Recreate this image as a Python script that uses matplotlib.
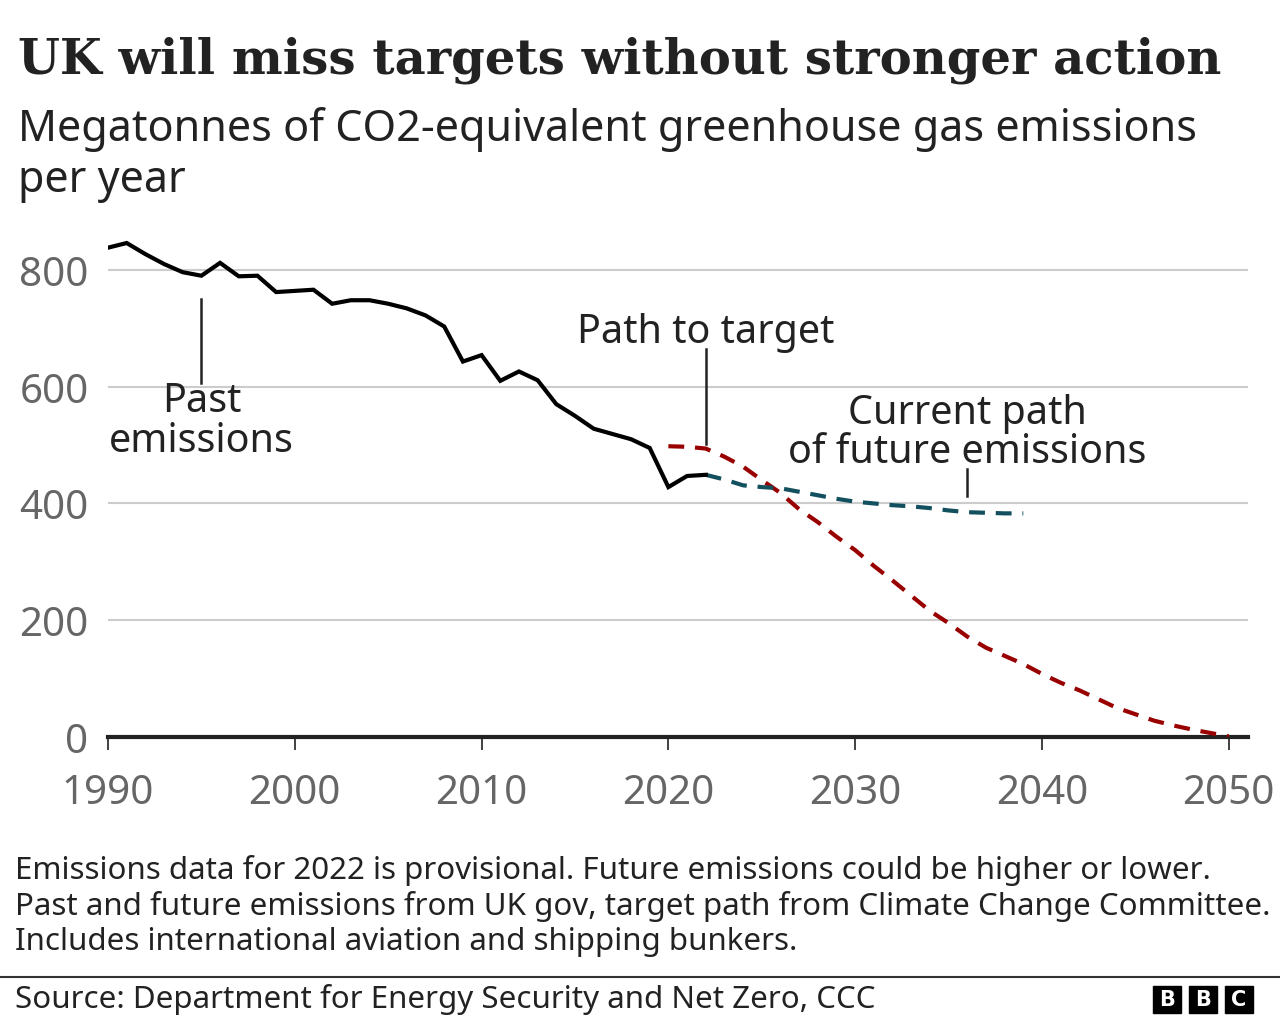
import matplotlib.pyplot as plt
from matplotlib.patches import Rectangle

# data
past_years = list(range(1990, 2023))
past_vals = [838, 846, 827, 810, 796, 790, 812, 789, 790, 762, 764, 766, 742, 748, 748,
             742, 734, 722, 703, 643, 654, 610, 626, 611, 570, 550, 528, 519, 510, 495,
             428, 447, 449]

target_years = list(range(2020, 2051))
target_vals = [498, 497, 494, 480, 463, 440, 418, 390, 368, 343, 320, 293, 268, 242, 216,
               195, 172, 153, 139, 125, 108, 93, 80, 65, 50, 39, 28, 20, 13, 7, 1]

current_years = list(range(2022, 2040))
current_vals = [449, 441, 431, 428, 426, 420, 414, 408, 403, 400, 397, 395, 392, 388,
                385, 384, 383, 383]

xticks = [1990, 2000, 2010, 2020, 2030, 2040, 2050]
yticks = [0, 200, 400, 600, 800]

W, H = 1280, 1020
sans = 'Noto Sans'

fig = plt.figure(figsize=(W / 100, H / 100), dpi=100)


def fx(x):
    return x / W


def fy(y):
    return 1 - y / H


# axes box in pixels: left 108, right 1248, bottom 738, top 230
ax = fig.add_axes([fx(108), fy(738), fx(1248 - 108), (738 - 230) / H])
ax.set_xlim(1990, 2051.03)
ax.set_ylim(0, 870)

ax.plot(past_years, past_vals, color='black', lw=3, solid_joinstyle='miter', zorder=4)
ax.plot(target_years, target_vals, color='#990000', lw=3, dashes=(3.8, 2.6), zorder=3)
ax.plot(current_years, current_vals, color='#12505f', lw=3, dashes=(3.8, 2.6), zorder=3)

ax.set_yticks(yticks)
ax.set_xticks(xticks)
ax.grid(axis='y', color='#cccccc', lw=1.5)
ax.set_axisbelow(True)
for s in ['top', 'right', 'left']:
    ax.spines[s].set_visible(False)
ax.spines['bottom'].set_color('#222222')
ax.spines['bottom'].set_linewidth(3)
ax.tick_params(axis='y', length=0, pad=14, labelsize=29, labelcolor='#666666')
ax.tick_params(axis='x', length=9, width=1.3, color='#333333', pad=17,
               labelsize=29, labelcolor='#666666')
for lab in ax.get_xticklabels() + ax.get_yticklabels():
    lab.set_fontfamily(sans)
    lab.set_fontweight('light')

# annotations
txt = dict(fontsize=28.5, color='#222222', family=sans, ha='center', va='center',
           linespacing=0.98)
ax.text(1995, 541, 'Past\nemissions', **txt)
ax.plot([1995, 1995], [607, 750], color='#222222', lw=1.8)
ax.text(2022, 693, 'Path to target', **txt)
ax.plot([2022, 2022], [502, 664], color='#222222', lw=1.8)
ax.text(2036, 521, 'Current path\nof future emissions', **txt)
ax.plot([2036, 2036], [413, 459], color='#222222', lw=1.8)

# titles
fig.text(fx(18), fy(60), 'UK will miss targets without stronger action',
         family='DejaVu Serif', weight='bold', fontsize=34.7, color='#222222',
         ha='left', va='center')
fig.text(fx(18), fy(155), 'Megatonnes of CO2-equivalent greenhouse gas emissions\nper year',
         family=sans, fontsize=31, color='#222222', ha='left', va='center',
         linespacing=1.19)

notes = ('Emissions data for 2022 is provisional. Future emissions could be higher or lower.\n'
         'Past and future emissions from UK gov, target path from Climate Change Committee.\n'
         'Includes international aviation and shipping bunkers.')
fig.text(fx(15), fy(906), notes, family=sans, fontsize=22.5, color='#222222',
         ha='left', va='center', linespacing=1.23)

fig.add_artist(plt.Line2D([0, 1], [fy(978), fy(978)], color='#333333', lw=1.5))
fig.text(fx(15), fy(1000), 'Source: Department for Energy Security and Net Zero, CCC',
         family=sans, fontsize=22.5, color='#222222', ha='left', va='center')

# BBC blocks
for i, letter in enumerate('BBC'):
    x0 = 1153 + i * 36
    fig.add_artist(Rectangle((fx(x0), fy(1014)), 28 / W, 27 / H, color='black',
                             transform=fig.transFigure))
    fig.text(fx(x0 + 14), fy(1000.5), letter, family='DejaVu Sans', weight='bold',
             fontsize=15, color='white', ha='center', va='center')

fig.savefig('out.png', dpi=100, facecolor='white')
